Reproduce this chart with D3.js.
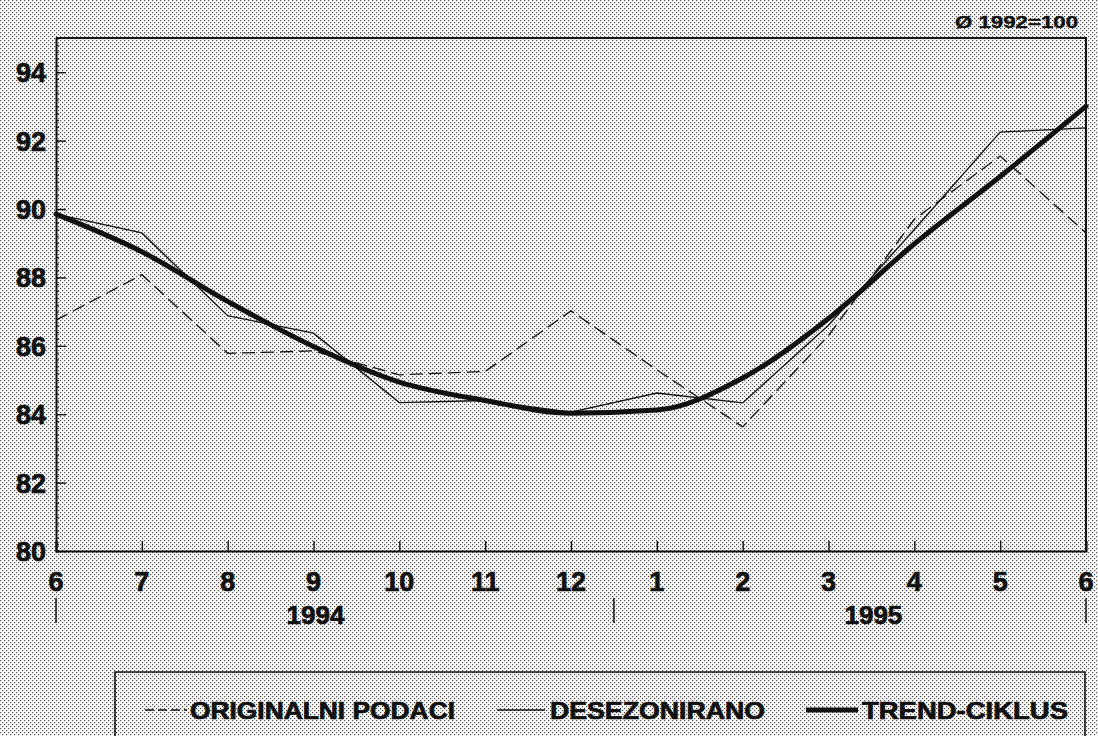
<!DOCTYPE html>
<html><head><meta charset="utf-8">
<script src="https://cdn.jsdelivr.net/npm/d3@7"></script>
<style>html,body{margin:0;padding:0;background:#fff;overflow:hidden}svg{display:block}</style>
</head><body>
<svg id="c" width="1098" height="736"></svg>
<script>
const months = ["6","7","8","9","10","11","12","1","2","3","4","5","6"];
const original = [86.75, 88.08, 85.78, 85.85, 85.15, 85.25, 87.02, 85.3, 83.63, 86.3, 89.7, 91.55, 89.3];
const desezonirano = [89.85, 89.3, 86.88, 86.37, 84.34, 84.4, 84.06, 84.62, 84.33, 86.6, 89.4, 92.25, 92.37];
const trend = [89.85, 88.75, 87.3, 85.98, 84.94, 84.4, 84.03, 84.12, 85.06, 86.8, 88.98, 90.95, 93.0];
const yTicks = [80, 82, 84, 86, 88, 90, 92, 94];
const years = [{label:"1994", at:3}, {label:"1995", at:9.5}];
const yearMarks = [0, 6.5, 12];
const legendItems = [
  {label:"ORIGINALNI PODACI", type:"orig"},
  {label:"DESEZONIRANO", type:"des"},
  {label:"TREND-CIKLUS", type:"trend"}
];
const note = "Ø 1992=100";

const svg = d3.select("#c");
const W = 1098, H = 736;
const defs = svg.append("defs");
const pat = defs.append("pattern").attr("id","dots").attr("patternUnits","userSpaceOnUse")
  .attr("width",4).attr("height",4);
pat.append("rect").attr("width",4).attr("height",4).attr("fill","#f8f8f8");
pat.append("rect").attr("x",0).attr("y",0).attr("width",1.15).attr("height",1.15).attr("fill","#4a4a4a");
pat.append("rect").attr("x",2).attr("y",2).attr("width",1.15).attr("height",1.15).attr("fill","#4a4a4a");
svg.append("rect").attr("width",W).attr("height",H).attr("fill","url(#dots)");

const L = 56, R = 1086, T = 38, B = 551;
const x = d3.scaleLinear().domain([0, 12]).range([L, R]);
const y = d3.scaleLinear().domain([80, 95]).range([B, T]);
const font = "'Liberation Sans', Arial, sans-serif";
const ink = "#111";

function boldText(sel, size){
  return sel.attr("font-family",font).attr("font-weight","bold").attr("font-size",size)
    .attr("fill",ink).attr("stroke",ink).attr("stroke-width",0.7);
}

// frame
svg.append("path").attr("d", `M${L},${T}H${R}V${B}`).attr("fill","none").attr("stroke",ink).attr("stroke-width",2);

// y axis
const yAxis = d3.axisRight(y).tickValues(yTicks).tickSize(10).tickFormat("");
const gy = svg.append("g").attr("transform",`translate(${L},0)`).call(yAxis);
gy.select(".domain").remove();
gy.selectAll("line").attr("stroke",ink).attr("stroke-width",1.4);
const yMinor = d3.axisRight(y).tickValues(d3.range(80, 95.01, 0.2)).tickSize(3).tickFormat("");
const gym = svg.append("g").attr("transform",`translate(${L},0)`).call(yMinor);
gym.select(".domain").attr("stroke",ink).attr("stroke-width",2);
gym.selectAll("line").attr("stroke",ink).attr("stroke-width",1);
boldText(svg.append("g").selectAll("text").data(yTicks).join("text")
  .attr("x", 46).attr("y", d => y(d) + 10).attr("text-anchor","end"), 27)
  .text(d => d);

// x axis
const xAxis = d3.axisTop(x).tickValues(d3.range(0, 13)).tickSize(10).tickFormat("");
const gx = svg.append("g").attr("transform",`translate(0,${B})`).call(xAxis);
gx.select(".domain").attr("stroke",ink).attr("stroke-width",2);
gx.selectAll("line").attr("stroke",ink).attr("stroke-width",1.4);
boldText(svg.append("g").selectAll("text").data(months).join("text")
  .attr("x",(d,i)=>x(i)).attr("y",591).attr("text-anchor","middle"), 27)
  .text(d=>d);
svg.append("g").selectAll("line").data(yearMarks).join("line")
  .attr("x1",d=>x(d)).attr("x2",d=>x(d)).attr("y1",598).attr("y2",623)
  .attr("stroke",ink).attr("stroke-width",1.5);
boldText(svg.append("g").selectAll("text").data(years).join("text")
  .attr("x",d=>x(d.at)+2).attr("y",624).attr("text-anchor","middle"), 26)
  .text(d=>d.label);

// note
boldText(svg.append("text").attr("x",955).attr("y",28)
  .attr("textLength",123).attr("lengthAdjust","spacingAndGlyphs"), 16).attr("stroke-width",0.4).text(note);

// lines
const line = d3.line().x((d,i)=>x(i)).y(d=>y(d));
const smooth = d3.line().x((d,i)=>x(i)).y(d=>y(d)).curve(d3.curveMonotoneX);
svg.append("path").attr("d", line(original)).attr("fill","none").attr("stroke",ink)
  .attr("stroke-width",1.3).attr("stroke-dasharray","13,6");
svg.append("path").attr("d", line(desezonirano)).attr("fill","none").attr("stroke",ink)
  .attr("stroke-width",1.3);
svg.append("path").attr("d", smooth(trend)).attr("fill","none").attr("stroke",ink)
  .attr("stroke-width",5).attr("stroke-linecap","round");

// legend
svg.append("path").attr("d","M115,745V672H1085V745").attr("fill","none").attr("stroke",ink).attr("stroke-width",1.6);
const legSpec = [
  {lx1:145, lx2:187, tx:190, tw:265},
  {lx1:497, lx2:545, tx:550, tw:215},
  {lx1:806, lx2:858, tx:862, tw:206}
];
const lg = svg.append("g").selectAll("g").data(legendItems).join("g");
lg.append("line").attr("x1",(d,i)=>legSpec[i].lx1).attr("x2",(d,i)=>legSpec[i].lx2)
  .attr("y1",710).attr("y2",710)
  .attr("stroke",ink)
  .attr("stroke-width",d=>d.type==="trend"?5:1.3)
  .attr("stroke-dasharray",d=>d.type==="orig"?"9,4":null);
boldText(lg.append("text").attr("x",(d,i)=>legSpec[i].tx).attr("y",719)
  .attr("textLength",(d,i)=>legSpec[i].tw).attr("lengthAdjust","spacingAndGlyphs"), 23)
  .text(d=>d.label);
</script>
</body></html>
